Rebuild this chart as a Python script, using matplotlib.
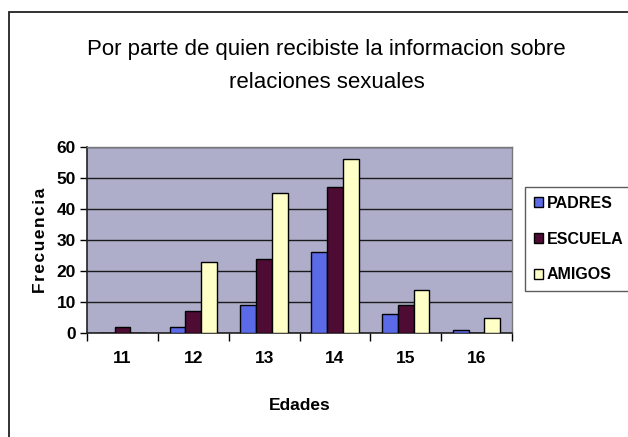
import matplotlib.pyplot as plt
import matplotlib.patches as mpatches
import numpy as np

plt.rcParams['font.family'] = ['Liberation Sans', 'DejaVu Sans']

# Data
edades = ['11', '12', '13', '14', '15', '16']
padres = [0, 2, 9, 26, 6, 1]
escuela = [2, 7, 24, 47, 9, 0]
amigos = [0, 23, 45, 56, 14, 5]
series = ['PADRES', 'ESCUELA', 'AMIGOS']
colors = ['#5b6ae6', '#4e0b34', '#ffffc8']

fig = plt.figure(figsize=(6.28, 4.37), dpi=100)
fig.patch.set_facecolor('white')

# outer chart border (runs off the right/bottom edge as in the scan)
fig.patches.append(mpatches.Rectangle((9 / 628, -0.02), 1.0, (437 - 12) / 437 + 0.02,
                                      transform=fig.transFigure, fill=False,
                                      edgecolor='#222222', lw=1.3))

ax = fig.add_axes([87 / 628, (437 - 333) / 437, 425 / 628, 186 / 437])
ax.set_facecolor('#aeaecb')

x = np.arange(len(edades))
w = 1 / 4.5  # Excel gap width 150 %
for i, (vals, c, name) in enumerate(zip([padres, escuela, amigos], colors, series)):
    ax.bar(x + (i - 1) * w, vals, w, color=c, edgecolor='black', lw=1.0,
           label=name, zorder=3)

ax.set_xlim(-0.5, len(edades) - 0.5)
ax.set_ylim(0, 60)
ax.set_yticks(range(0, 61, 10))
ax.yaxis.grid(True, color='#1a1a1a', lw=1.0, zorder=1)
ax.set_axisbelow(True)

ax.set_xticks(x)
ax.set_xticklabels(edades, fontsize=12.5, fontweight='bold')
ax.set_xticks(np.arange(-0.5, len(edades)), minor=True)
ax.tick_params(axis='x', which='major', length=0, pad=13)
ax.tick_params(axis='x', which='minor', length=6, width=1, direction='out')
ax.tick_params(axis='y', length=5, width=1, labelsize=12.5, pad=3)
for t in ax.get_yticklabels():
    t.set_fontweight('bold')

for s in ['top', 'right']:
    ax.spines[s].set_color('#777777')
    ax.spines[s].set_linewidth(1.0)
for s in ['left', 'bottom']:
    ax.spines[s].set_color('#222222')
    ax.spines[s].set_linewidth(1.2)

ax.set_xlabel('Edades', fontsize=12.5, fontweight='bold', labelpad=23)
ax.set_ylabel('F\u200ar\u200ae\u200ac\u200au\u200ae\u200an\u200ac\u200ai\u200aa',
              fontsize=12.5, fontweight='bold', labelpad=6)

fig.text(0.52, 1 - 50 / 437, 'Por parte de quien recibiste la informacion sobre',
         ha='center', va='center', fontsize=16)
fig.text(0.52, 1 - 83 / 437, 'relaciones sexuales',
         ha='center', va='center', fontsize=16)

leg = ax.legend(loc='upper left', bbox_to_anchor=(525 / 628, 1 - 187 / 437),
                bbox_transform=fig.transFigure, frameon=True, fancybox=False,
                prop={'size': 11.5, 'weight': 'bold'}, handlelength=0.55,
                handleheight=0.6, handletextpad=0.25, labelspacing=1.3,
                borderpad=0.55, borderaxespad=0)
leg.get_frame().set_edgecolor('#333333')
leg.get_frame().set_linewidth(1.0)

fig.savefig('out.png', dpi=100, facecolor='white')
